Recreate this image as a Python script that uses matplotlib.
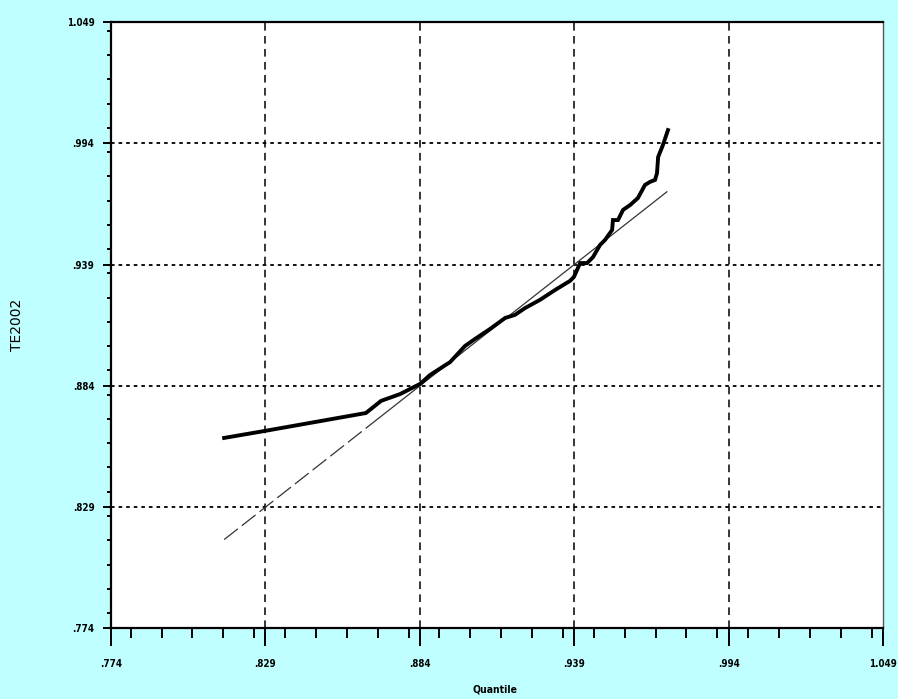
import numpy as np
import matplotlib
matplotlib.use("Agg")
import matplotlib.pyplot as plt
from matplotlib.ticker import MultipleLocator, FixedLocator

# Quantile plot data
quantile = [0.8143, 0.8289, 0.8648, 0.8702, 0.8770, 0.8841, 0.8876, 0.8948,
            0.9001, 0.9037, 0.9090, 0.9144, 0.9179, 0.9215, 0.9268, 0.9322,
            0.9375, 0.9389, 0.9411, 0.9436, 0.9457, 0.9482, 0.9500, 0.9525,
            0.9528, 0.9546, 0.9564, 0.9589, 0.9617, 0.9642, 0.9660, 0.9678,
            0.9685, 0.9689, 0.9706, 0.9724]
te2002 = [0.8604, 0.8636, 0.8717, 0.8772, 0.8803, 0.8849, 0.8889, 0.8948,
          0.9021, 0.9053, 0.9098, 0.9148, 0.9162, 0.9193, 0.9230, 0.9275,
          0.9316, 0.9334, 0.9397, 0.9397, 0.9424, 0.9479, 0.9502, 0.9547,
          0.9592, 0.9592, 0.9638, 0.9660, 0.9692, 0.9751, 0.9765, 0.9774,
          0.9805, 0.9878, 0.9932, 1.0000]

# reference line y = x
ref_lo = [0.8143, 0.8652]
ref_hi = [0.8652, 0.9720]

tick_values = [0.774, 0.829, 0.884, 0.939, 0.994, 1.049]
tick_labels = [".774", ".829", ".884", ".939", ".994", "1.049"]

bg = "#bfffff"
fig = plt.figure(figsize=(8.98, 6.99), dpi=100, facecolor=bg)
ax = fig.add_axes([0.1236, 0.1009, 0.8597, 0.8676])
ax.set_facecolor("white")

ax.set_xlim(0.774, 1.049)
ax.set_ylim(0.774, 1.049)

# grid lines at inner major ticks
for v in tick_values[1:-1]:
    ax.axvline(v, color="black", lw=1.1, dashes=(5, 3.5), zorder=1)
    ax.axhline(v, color="black", lw=1.3, dashes=(2, 2.2), zorder=1)

# reference line
ax.plot(ref_lo, ref_lo, color="#333333", lw=0.9, dashes=(14, 4), zorder=2)
ax.plot(ref_hi, ref_hi, color="#333333", lw=0.9, zorder=2)

# quantile curve
ax.plot(quantile, te2002, color="black", lw=2.8, solid_joinstyle="miter",
        zorder=3)

ax.xaxis.set_major_locator(FixedLocator(tick_values))
ax.yaxis.set_major_locator(FixedLocator(tick_values))
ax.xaxis.set_minor_locator(MultipleLocator(0.011))
ax.yaxis.set_minor_locator(MultipleLocator(0.011))

tick_font = dict(family="DejaVu Sans", stretch="condensed",
                 weight="bold", size=7)
ax.set_xticklabels(tick_labels, **tick_font)
ax.set_yticklabels(tick_labels, **tick_font)

ax.tick_params(axis="x", which="major", direction="out", length=13,
               width=1.4, pad=9)
ax.tick_params(axis="x", which="minor", direction="out", length=7,
               width=1.4)
ax.tick_params(axis="y", which="major", direction="out", length=6,
               width=1.4, pad=6)
ax.tick_params(axis="y", which="minor", direction="out", length=3,
               width=1.4)

for side in ["left", "bottom", "top"]:
    ax.spines[side].set_linewidth(1.6)
ax.spines["right"].set_linewidth(1.0)
ax.spines["right"].set_color("#555555")

ax.set_xlabel("Quantile", family="DejaVu Sans", stretch="condensed",
              weight="bold", size=7.5)
ax.xaxis.set_label_coords(0.497, -0.101)
ax.xaxis.label.set_va("center")

ax.set_ylabel("TE2002", family="DejaVu Sans", size=10)
ax.yaxis.set_label_coords(-0.122, 0.5)
ax.yaxis.label.set_va("center")

plt.savefig("out.png", dpi=100, facecolor=bg)
